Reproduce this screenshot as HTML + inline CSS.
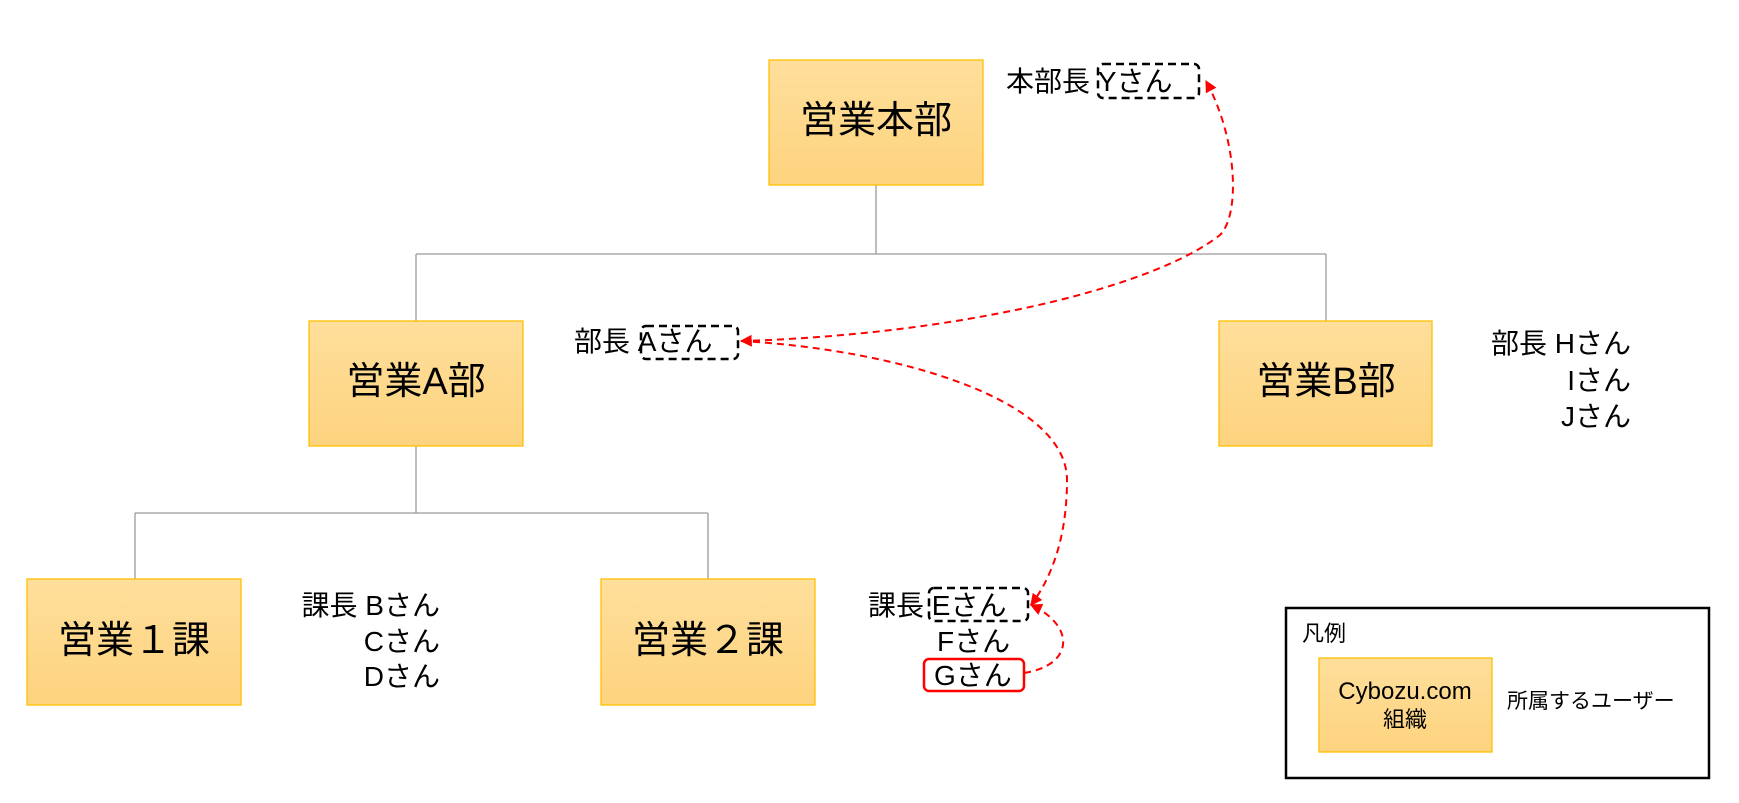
<!DOCTYPE html>
<html><head><meta charset="utf-8"><style>
body{margin:0;background:#fff}
svg text{font-family:"Liberation Sans","Noto Sans CJK JP",sans-serif;fill:#000}
</style></head><body>
<svg width="1739" height="798" viewBox="0 0 1739 798" xmlns="http://www.w3.org/2000/svg">
<defs>
<linearGradient id="g" x1="0" y1="0" x2="0" y2="1"><stop offset="0" stop-color="#FFDF9C"/><stop offset="1" stop-color="#FDD37E"/></linearGradient>
<marker id="ar" viewBox="0 0 10 10" refX="9" refY="5" markerWidth="6" markerHeight="6" orient="auto-start-reverse"><path d="M0,0 L10,5 L0,10 z" fill="#f00"/></marker>
</defs>
<g stroke="#9a9a9a" stroke-width="1.3" fill="none">
<path d="M876 185V254M416 254H1326M416 254V321M1326 254V321"/>
<path d="M416 446V513M135 513H708M135 513V579M708 513V579"/>
</g>
<g fill="url(#g)" stroke="#FFC000" stroke-width="1.3">
<rect x="769" y="60" width="214" height="125"/>
<rect x="309" y="321" width="214" height="125"/>
<rect x="1219" y="321" width="213" height="125"/>
<rect x="27" y="579" width="214" height="126"/>
<rect x="601" y="579" width="214" height="126"/>
<rect x="1319" y="658" width="173" height="94"/>
</g>
<g font-size="38" text-anchor="middle">
<text x="876" y="133">営業本部</text>
<text x="416" y="394">営業A部</text>
<text x="1326" y="394">営業B部</text>
<text x="134" y="653">営業１課</text>
<text x="708" y="653">営業２課</text>
</g>
<g font-size="28">
<text x="1006" y="91">本部長 Yさん</text>
<text x="574" y="351">部長 Aさん</text>
<text x="1631" y="353" text-anchor="end">部長 Hさん</text>
<text x="1631" y="390" text-anchor="end">Iさん</text>
<text x="1631" y="426" text-anchor="end">Jさん</text>
<text x="440" y="615" text-anchor="end">課長 Bさん</text>
<text x="440" y="651" text-anchor="end">Cさん</text>
<text x="440" y="686" text-anchor="end">Dさん</text>
<text x="868" y="615">課長 Eさん</text>
<text x="937" y="651">Fさん</text>
<text x="934" y="685">Gさん</text>
</g>
<g fill="none" stroke="#000" stroke-width="2.5" stroke-dasharray="8,5">
<rect x="1098" y="64" width="101" height="34" rx="5"/>
<rect x="641" y="326" width="97" height="33" rx="5"/>
<rect x="929" y="588" width="99" height="33" rx="5"/>
</g>
<rect x="924" y="659" width="100" height="32" rx="5" fill="none" stroke="#f00" stroke-width="2.5"/>
<g fill="none" stroke="#f00" stroke-width="2" stroke-dasharray="7,5">
<path d="M741 341 C950 335,1150 290,1220 235 C1240 215,1238 140,1206 81" marker-start="url(#ar)" marker-end="url(#ar)"/>
<path d="M741 341 C900 350,1067 400,1067 480 C1067 540,1050 580,1031 605" marker-end="url(#ar)"/>
<path d="M1024 673 C1075 665,1075 625,1031 605" marker-end="url(#ar)"/>
</g>
<rect x="1286" y="608" width="423" height="170" fill="none" stroke="#000" stroke-width="2.5"/>
<text x="1302" y="641" font-size="22" fill="#333">凡例</text>
<text x="1405" y="699" font-size="24" text-anchor="middle">Cybozu.com</text>
<text x="1405" y="727" font-size="22" text-anchor="middle">組織</text>
<text x="1507" y="708" font-size="21">所属するユーザー</text>
</svg>
</body></html>
